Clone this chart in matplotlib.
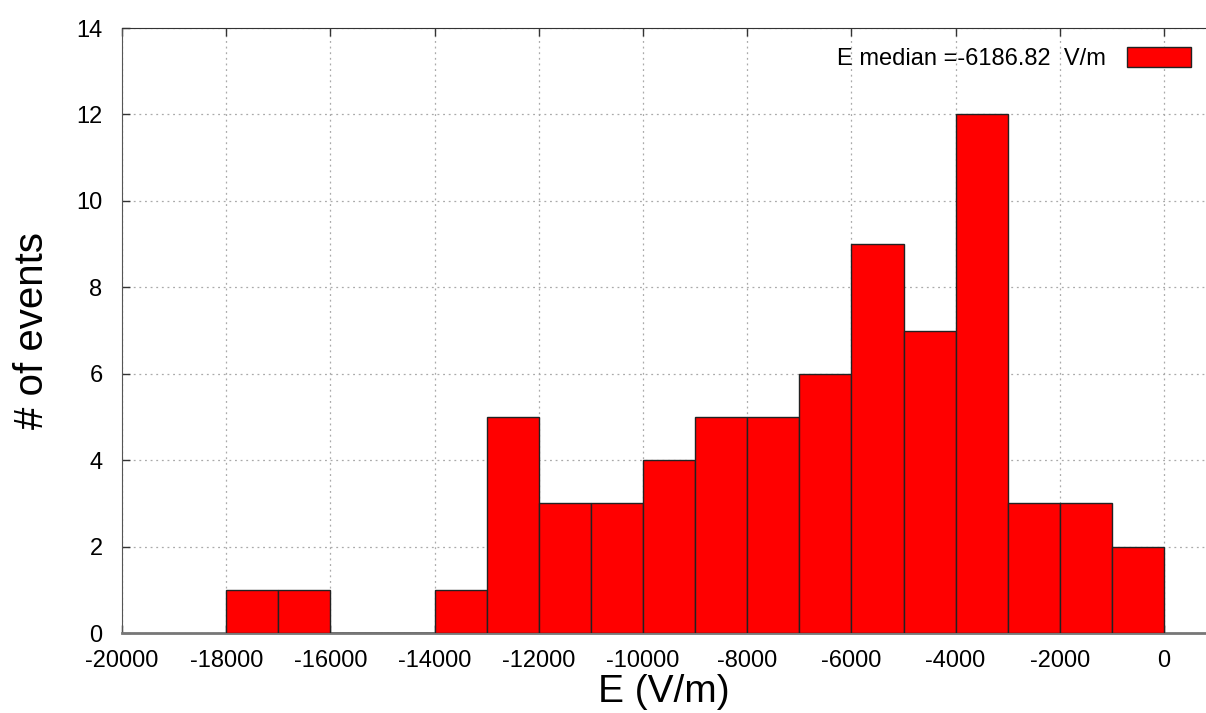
import matplotlib
matplotlib.use('Agg')
import matplotlib.pyplot as plt
import numpy as np

plt.rcParams['font.family'] = ['Liberation Sans', 'DejaVu Sans']
plt.rcParams['axes.unicode_minus'] = False

# histogram of E field, 1000 V/m bins
bin_edges = np.arange(-18000, 1, 1000)
counts = [1, 1, 0, 0, 1, 5, 3, 3, 4, 5, 5, 6, 9, 7, 12, 3, 3, 2]
e_median = -6186.82

fig = plt.figure(figsize=(12.06, 7.13), dpi=100)
ax = fig.add_axes([0.1012, 0.1122, 0.8988, 0.8485])

ax.bar(bin_edges[:-1], counts, width=1000, align='edge', color='#ff0000',
       edgecolor='#222222', linewidth=1.0,
       label='E median =%.2f  V/m' % e_median, zorder=3)

ax.set_xlim(-20000, 806)
ax.set_ylim(0, 14)
ax.set_xticks(np.arange(-20000, 1, 2000))
ax.set_yticks(np.arange(0, 15, 2))
ax.tick_params(direction='in', length=6, width=1, labelsize=17,
               colors='#333333', labelcolor='black')
ax.tick_params(axis='x', pad=12, top=True)
ax.tick_params(axis='y', pad=14)
ax.grid(True, linestyle=(0, (1.5, 3)), color='#aaaaaa', linewidth=0.9, zorder=0)

ax.spines['right'].set_visible(False)
ax.spines['left'].set_color('#555555')
ax.spines['top'].set_color('#333333')
ax.spines['bottom'].set_color('#777777')
ax.spines['bottom'].set_linewidth(2.0)

ax.set_xlabel('E (V/m)', fontsize=28, labelpad=2)
ax.set_ylabel('# of events', fontsize=29, labelpad=18)

ax.legend(loc='upper right', bbox_to_anchor=(0.998, 0.99), frameon=False,
          markerfirst=False, fontsize=17, handlelength=2.7, handleheight=0.95,
          handletextpad=0.9, borderaxespad=0.15)

fig.savefig('out.png', dpi=100)
plt.close(fig)
